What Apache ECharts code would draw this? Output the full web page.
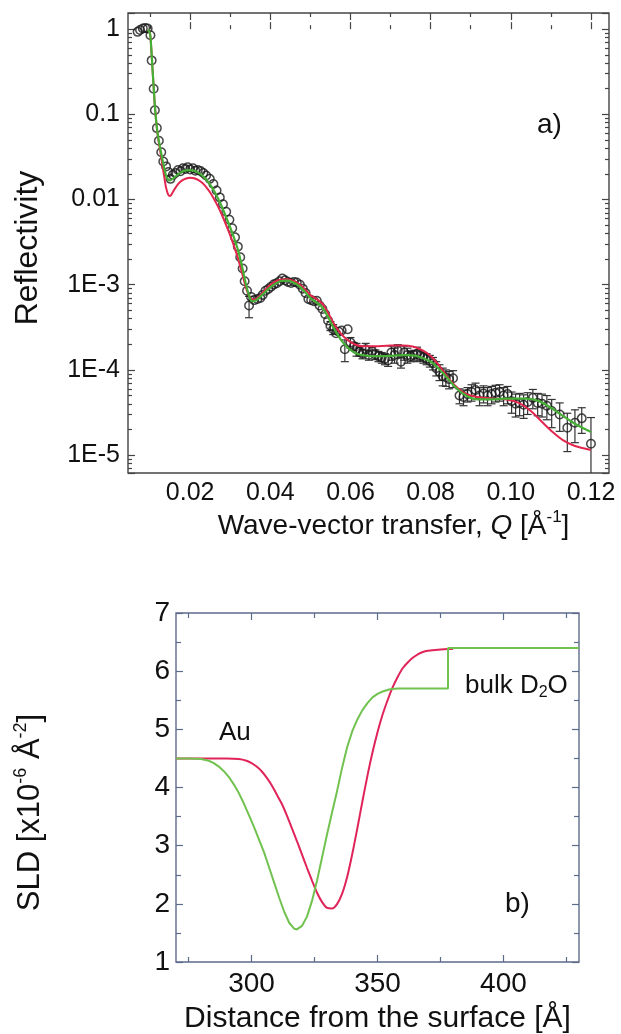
<!DOCTYPE html>
<html><head><meta charset="utf-8">
<script src="https://cdn.jsdelivr.net/npm/echarts@6/dist/echarts.min.js"></script>
<style>html,body{margin:0;padding:0;background:#fff}#c{width:621px;height:1034px}</style>
</head><body><div id="c"></div>
<script>
// ---------- panel a) reflectivity data ----------
const refQ = [
0.0069,0.0075,0.0082,0.0088,0.0094,0.0101,0.0104,0.0109,0.0112,0.0117,
0.0122,0.0128,0.0133,0.0140,0.0146,0.0151,0.0157,0.0163,0.0170,0.0176,
0.0182,0.0188,0.0194,0.0200,0.0207,0.0213,0.0219,0.0226,0.0233,0.0240,
0.0249,0.0258,0.0266,0.0274,0.0282,0.0290,0.0298,0.0305,0.0312,0.0319,
0.0325,0.0331,0.0336,0.0342,0.0347,0.0352,0.0360,0.0368,0.0375,0.0381,
0.0388,0.0395,0.0402,0.0409,0.0416,0.0423,0.0430,0.0437,0.0444,0.0452,
0.0459,0.0466,0.0474,0.0481,0.0488,0.0495,0.0502,0.0509,0.0516,0.0523,
0.0530,0.0537,0.0544,0.0550,0.0557,0.0564,0.0571,0.0578,0.0586,0.0593,
0.0600,0.0608,0.0615,0.0622,0.0630,0.0638,0.0646,0.0654,0.0662,0.0670,
0.0678,0.0686,0.0694,0.0702,0.0710,0.0718,0.0726,0.0734,0.0742,0.0750,
0.0758,0.0766,0.0774,0.0782,0.0790,0.0798,0.0806,0.0814,0.0822,0.0830,
0.0838,0.0846,0.0856,0.0872,0.0882,0.0892,0.0902,0.0912,0.0922,0.0932,
0.0942,0.0952,0.0962,0.0972,0.0982,0.0992,0.1002,0.1012,0.1022,0.1032,
0.1042,0.1055,0.1067,0.1078,0.1090,0.1102,0.1122,0.1141,0.1160,0.1177,
0.1200];
const refR = [
0.93,0.98,1.02,1.03,1.02,0.85,0.43,0.20,0.112,0.069,
0.049,0.036,0.028,0.0245,0.021,0.0175,0.0195,0.0205,0.0222,0.0215,
0.0233,0.0228,0.0239,0.0225,0.0233,0.0218,0.0222,0.0216,0.0205,0.0192,
0.0175,0.0152,0.0128,0.0106,0.0088,0.0072,0.0058,0.0046,0.0036,0.0028,
0.0021,0.00155,0.00110,0.00085,0.00057,0.00072,0.00066,0.00068,0.00070,0.00076,
0.00085,0.00089,0.00095,0.00101,0.00104,0.00110,0.00118,0.00113,0.00108,0.00105,
0.00108,0.00106,0.00100,0.00090,0.00080,0.00068,0.00066,0.00064,0.00065,0.00057,
0.00052,0.00045,0.00038,0.00033,0.00030,0.00027,0.00028,0.00029,0.000175,0.00030,
0.00021,0.00019,0.000175,0.000165,0.000155,0.000175,0.000150,0.000165,0.000152,0.000145,
0.000140,0.000135,0.000130,0.000160,0.000150,0.000168,0.000125,0.000160,0.000150,0.000145,
0.000150,0.000155,0.000148,0.000140,0.000135,0.000128,0.000120,0.000105,0.000095,0.000085,
0.000082,0.000078,0.000080,0.000050,0.000048,0.000052,0.000055,0.000058,0.000050,0.000053,
0.000050,0.000052,0.000054,0.000055,0.000050,0.000052,0.000043,0.000040,0.000041,0.000039,
0.000042,0.000047,0.000041,0.000040,0.000038,0.000033,0.000030,0.000021,0.000024,0.000027,
0.0000136];
const refErr = [
0,0,0,0,0,0,0,0,0,0,
0,0,0,0,0,0,0,0,0,0,
0,0,0,0,0,0,0,0,0,0,
0,0,0,0,0,0,0,0,0,0,
0,0,0,0,0.00016,0,0,0,0,0,
0,0,0,0,0,0,0,0,0,0,
0,0,0,0,0,0,0,0,0,0,
0,0,0,0.00004,0.00004,0,0,0,0.00005,0,
0.00003,0.00002,0.00003,0.00002,0.00002,0.00003,0.00002,0.00002,0.00002,0.00002,
0.00002,0.00002,0.00002,0.00003,0.00003,0.00003,0.00002,0.00003,0.00003,0.00002,
0.00002,0.00003,0.00002,0.00002,0.00002,0.00002,0.00002,0.00002,0.00002,0.00002,
0.000018,0.000018,0.000018,0.00001,0.00001,0.00001,0.000012,0.000012,0.000012,0.000012,
0.000012,0.000012,0.000012,0.000012,0.000012,0.000012,0.000012,0.000012,0.000012,0.000012,
0.000012,0.000012,0.000012,0.000012,0.000012,0.000012,0.000011,0.000010,0.000010,0.000009,
0.000014];
const fitGreenQ = [0.0095,0.0100,0.0103,0.0106,0.0109,0.0112,0.0116,0.0120,0.0125,0.0130,0.0135,0.0140,0.0145,0.0150,0.0160,0.0170,0.0180,0.0190,0.0200,0.0210,0.0220,0.0230,0.0240,0.0250,0.0260,0.0270,0.0280,0.0290,0.0300,0.0310,0.0320,0.0330,0.0340,0.0350,0.0355,0.0365,0.0380,0.0395,0.0410,0.0425,0.0440,0.0455,0.0470,0.0485,0.0500,0.0515,0.0530,0.0545,0.0560,0.0575,0.0590,0.0605,0.0620,0.0640,0.0660,0.0680,0.0700,0.0720,0.0740,0.0760,0.0780,0.0800,0.0820,0.0840,0.0860,0.0880,0.0900,0.0920,0.0950,0.0980,0.1010,0.1040,0.1070,0.1100,0.1120,0.1150,0.1170,0.1200];
const fitGreenR = [1.0,0.88,0.6,0.35,0.21,0.125,0.078,0.055,0.041,0.031,0.024,0.019,0.0172,0.0168,0.0180,0.0198,0.0212,0.0220,0.0222,0.0218,0.0207,0.0192,0.0172,0.0150,0.0126,0.0102,0.0081,0.0062,0.0047,0.0035,0.0025,0.0016,0.00098,0.00068,0.00064,0.00066,0.00076,0.00089,0.00101,0.00110,0.00112,0.00108,0.00098,0.00084,0.00070,0.00062,0.00054,0.00041,0.00030,0.00023,0.00019,0.000165,0.000153,0.000147,0.000145,0.000145,0.000146,0.000148,0.000149,0.000147,0.000138,0.000125,0.000104,0.000082,0.000064,0.000053,0.000047,0.000045,0.000045,0.000046,0.000046,0.000046,0.000043,0.000036,0.000031,0.000025,0.000022,0.0000187];
const fitRedQ = [0.0095,0.0100,0.0103,0.0106,0.0109,0.0112,0.0116,0.0120,0.0125,0.0130,0.0135,0.0140,0.0145,0.0150,0.0155,0.0160,0.0170,0.0180,0.0190,0.0200,0.0210,0.0220,0.0230,0.0240,0.0250,0.0260,0.0270,0.0280,0.0290,0.0300,0.0310,0.0320,0.0330,0.0340,0.0350,0.0360,0.0375,0.0390,0.0405,0.0420,0.0440,0.0460,0.0480,0.0500,0.0515,0.0530,0.0545,0.0560,0.0575,0.0590,0.0610,0.0630,0.0660,0.0700,0.0730,0.0755,0.0780,0.0800,0.0820,0.0840,0.0860,0.0880,0.0900,0.0930,0.0960,0.0990,0.1020,0.1050,0.1080,0.1100,0.1130,0.1160,0.1200];
const fitRedR = [1.0,0.88,0.6,0.35,0.21,0.125,0.077,0.053,0.038,0.027,0.019,0.0138,0.0115,0.0110,0.0118,0.0130,0.0152,0.0168,0.0177,0.0180,0.0178,0.0170,0.0157,0.0140,0.0121,0.0101,0.0082,0.0065,0.0050,0.0038,0.0028,0.0020,0.00135,0.00090,0.00070,0.00067,0.00075,0.00090,0.00104,0.00113,0.00116,0.00110,0.00095,0.00076,0.00068,0.00060,0.00046,0.00034,0.00027,0.00023,0.00020,0.000190,0.000190,0.000193,0.000193,0.000188,0.000170,0.000146,0.000115,0.000085,0.000066,0.000055,0.000050,0.000047,0.000046,0.000045,0.000041,0.000033,0.000024,0.0000195,0.0000150,0.0000128,0.0000115];
const qTicksMajor = [0.02,0.04,0.06,0.08,0.10,0.12];
const qTicksMinor = [0.01,0.03,0.05,0.07,0.09,0.11];
const rTickValues = [1e-5,1e-4,1e-3,0.01,0.1,1];
const rTickLabels = ['1E-5','1E-4','1E-3','0.01','0.1','1'];

// ---------- panel b) SLD profiles ----------
const sldRedX = [270,280,290,295,298,300,302,304,306,308,310,312,314,316,318,320,322,324,326,328,330,332,334,336,338,340,342,344,346,348,350,352,354,356,358,360,362,364,366,368,370,374,378,380];
const sldRedY = [4.50,4.50,4.50,4.49,4.46,4.42,4.36,4.28,4.17,4.04,3.88,3.72,3.52,3.30,3.08,2.85,2.62,2.40,2.19,2.03,1.93,1.92,2.00,2.18,2.47,2.86,3.30,3.76,4.20,4.60,4.95,5.25,5.50,5.72,5.90,6.05,6.15,6.23,6.29,6.33,6.35,6.37,6.38,6.38];
const sldGreenX = [270,275,280,283,285,287,289,291,293,295,297,299,301,303,305,307,309,311,313,315,317,318,320,322,324,326,328,330,332,334,336,338,340,342,344,346,348,350,352,355,358,378,378,430];
const sldGreenY = [4.50,4.50,4.49,4.46,4.42,4.36,4.28,4.18,4.05,3.90,3.72,3.52,3.32,3.10,2.88,2.62,2.36,2.10,1.86,1.67,1.57,1.56,1.62,1.78,2.05,2.40,2.80,3.20,3.58,3.95,4.35,4.70,4.97,5.17,5.33,5.45,5.55,5.61,5.65,5.69,5.70,5.70,6.40,6.40];
const dTicksMajor = [300,350,400];
const dTicksMinor = [275,325,375,425];
const sTicksMajor = [1,2,3,4,5,6,7];
const sTicksMinor = [1.5,2.5,3.5,4.5,5.5,6.5];

// ---------- axis ranges ----------
const Q_MIN = 0.0045, Q_MAX = 0.1245;
const R_MIN_LOG = -5.21, R_MAX_LOG = 0.19;
const R_MIN = Math.pow(10, R_MIN_LOG), R_MAX = Math.pow(10, R_MAX_LOG);
const D_MIN = 270, D_MAX = 430, S_MIN = 1, S_MAX = 7;

const FONT = '"Liberation Sans", Arial, Helvetica, sans-serif';
const TXT = '#111';
const FRAME_A = '#444', FRAME_B = '#5d6b8a';
const RED_A = '#e3264d', GREEN_A = '#45b035';
const RED_B = '#e0245a', GREEN_B = '#72c24f';

// log-space minor ticks (2..9 per decade)
const rMinorLog = [];
for (let e = -6; e <= 0; e++) for (let k = 2; k <= 9; k++) {
  const v = Math.log10(k) + e;
  if (v > R_MIN_LOG && v < R_MAX_LOG) rMinorLog.push(v);
}

function deco(grid, pos, min, max, values, len, color) {
  return {
    type: 'value', gridIndex: grid, position: pos, min: min, max: max,
    axisLine: {show: false}, splitLine: {show: false},
    axisTick: {show: true, inside: true, length: len, customValues: values, lineStyle: {color: color, width: 1.2}},
    axisLabel: {show: false}
  };
}

const xAxes = [
  {
    type: 'value', gridIndex: 0, position: 'bottom', min: Q_MIN, max: Q_MAX,
    axisLine: {show: false}, splitLine: {show: false},
    axisTick: {inside: true, length: 7, customValues: qTicksMajor, lineStyle: {color: FRAME_A, width: 1.2}},
    axisLabel: {customValues: qTicksMajor, formatter: v => v.toFixed(2), fontSize: 25, fontFamily: FONT, color: TXT, margin: 8},
    name: 'Wave-vector transfer, {i|Q} [Å{s|-1}]', nameLocation: 'middle', nameGap: 36,
    nameTextStyle: {fontSize: 28, fontFamily: FONT, color: TXT, lineHeight: 34, padding: [0, 0, 0, 50],
      rich: {i: {fontStyle: 'italic', fontSize: 28, fontFamily: FONT, color: TXT, lineHeight: 34},
             s: {fontSize: 17, fontFamily: FONT, color: TXT, verticalAlign: 'top', lineHeight: 22}}}
  },
  deco(0, 'bottom', Q_MIN, Q_MAX, qTicksMinor, 4, FRAME_A),
  deco(0, 'top', Q_MIN, Q_MAX, qTicksMajor, 7, FRAME_A),
  deco(0, 'top', Q_MIN, Q_MAX, qTicksMinor, 4, FRAME_A),
  {
    type: 'value', gridIndex: 1, position: 'bottom', min: D_MIN, max: D_MAX,
    axisLine: {show: false}, splitLine: {show: false},
    axisTick: {inside: true, length: 7, customValues: dTicksMajor, lineStyle: {color: FRAME_B, width: 1.2}},
    axisLabel: {customValues: dTicksMajor, fontSize: 28, fontFamily: FONT, color: TXT, margin: 8},
    name: 'Distance from the surface [Å]', nameLocation: 'middle', nameGap: 40,
    nameTextStyle: {fontSize: 30, fontFamily: FONT, color: TXT, lineHeight: 34}
  },
  deco(1, 'bottom', D_MIN, D_MAX, dTicksMinor, 5, FRAME_B),
  deco(1, 'top', D_MIN, D_MAX, dTicksMajor, 7, FRAME_B),
  deco(1, 'top', D_MIN, D_MAX, dTicksMinor, 5, FRAME_B)
];

function rLabel(v) {
  const lv = Math.log10(v);
  for (let i = 0; i < rTickValues.length; i++) {
    if (Math.abs(Math.log10(rTickValues[i]) - lv) < 1e-6) return rTickLabels[i];
  }
  return '';
}

const yAxes = [
  {
    type: 'log', logBase: 10, gridIndex: 0, position: 'left', min: R_MIN, max: R_MAX,
    axisLine: {show: false}, splitLine: {show: false}, minorTick: {show: false},
    axisTick: {inside: true, length: 7, lineStyle: {color: FRAME_A, width: 1.2}},
    axisLabel: {formatter: rLabel, fontSize: 25, fontFamily: FONT, color: TXT, margin: 8},
    name: 'Reflectivity', nameLocation: 'middle', nameGap: 82, nameRotate: 90,
    nameTextStyle: {fontSize: 32, fontFamily: FONT, color: TXT, lineHeight: 36, padding: [0, 10, 0, 0]}
  },
  {
    type: 'log', logBase: 10, gridIndex: 0, position: 'right', min: R_MIN, max: R_MAX,
    axisLine: {show: false}, splitLine: {show: false},
    axisTick: {inside: true, length: 7, lineStyle: {color: FRAME_A, width: 1.2}},
    axisLabel: {show: false}
  },
  deco(0, 'left', R_MIN_LOG, R_MAX_LOG, rMinorLog, 4, FRAME_A),
  deco(0, 'right', R_MIN_LOG, R_MAX_LOG, rMinorLog, 4, FRAME_A),
  {
    type: 'value', gridIndex: 1, position: 'left', min: S_MIN, max: S_MAX,
    axisLine: {show: false}, splitLine: {show: false},
    axisTick: {inside: true, length: 7, customValues: sTicksMajor, lineStyle: {color: FRAME_B, width: 1.2}},
    axisLabel: {customValues: sTicksMajor, fontSize: 28, fontFamily: FONT, color: TXT, margin: 6},
    name: 'SLD [x10{s|-6} Å{s|-2}]', nameLocation: 'middle', nameGap: 128, nameRotate: 90,
    nameTextStyle: {fontSize: 31, fontFamily: FONT, color: TXT, lineHeight: 36, padding: [0, 50, 0, 0],
      rich: {s: {fontSize: 18, fontFamily: FONT, color: TXT, verticalAlign: 'top', lineHeight: 22}}}
  },
  deco(1, 'left', S_MIN, S_MAX, sTicksMinor, 5, FRAME_B),
  deco(1, 'right', S_MIN, S_MAX, sTicksMajor, 7, FRAME_B),
  deco(1, 'right', S_MIN, S_MAX, sTicksMinor, 5, FRAME_B)
];

const zip = (a, b) => a.map((v, i) => [v, b[i]]);

const chart = echarts.init(document.getElementById('c'), null, {renderer: 'canvas'});
chart.setOption({
  backgroundColor: '#fff',
  animation: false,
  grid: [
    {left: 128, top: 13, width: 481, height: 460, show: true, borderColor: FRAME_A, borderWidth: 1.4, backgroundColor: 'transparent', outerBoundsMode: 'none', containLabel: false},
    {left: 176, top: 613, width: 403, height: 349, show: true, borderColor: FRAME_B, borderWidth: 1.4, backgroundColor: 'transparent', outerBoundsMode: 'none', containLabel: false}
  ],
  xAxis: xAxes,
  yAxis: yAxes,
  series: [
    {
      type: 'custom', xAxisIndex: 0, yAxisIndex: 0, z: 1, clip: true,
      data: refQ.map((q, i) => [q, refR[i], refErr[i]]),
      encode: {x: 0, y: 1},
      renderItem: function (params, api) {
        const x = api.value(0), y = api.value(1), e = api.value(2);
        if (!e) return null;
        const lo = Math.max(y - e, R_MIN), hi = y + e;
        const p1 = api.coord([x, hi]), p2 = api.coord([x, lo]);
        const w = 4;
        const st = {stroke: '#333', lineWidth: 1.2};
        const kids = [
          {type: 'line', shape: {x1: p1[0], y1: p1[1], x2: p2[0], y2: p2[1]}, style: st},
          {type: 'line', shape: {x1: p1[0] - w, y1: p1[1], x2: p1[0] + w, y2: p1[1]}, style: st}
        ];
        if (lo > R_MIN) kids.push({type: 'line', shape: {x1: p2[0] - w, y1: p2[1], x2: p2[0] + w, y2: p2[1]}, style: st});
        return {type: 'group', children: kids};
      }
    },
    {
      type: 'scatter', xAxisIndex: 0, yAxisIndex: 0, z: 2,
      data: zip(refQ, refR), symbol: 'circle', symbolSize: 8.5,
      itemStyle: {color: 'rgba(255,255,255,0)', borderColor: '#1a1a1a', borderWidth: 1.5}
    },
    {
      type: 'line', xAxisIndex: 0, yAxisIndex: 0, z: 3, data: zip(fitRedQ, fitRedR),
      showSymbol: false, smooth: 0.3, lineStyle: {color: RED_A, width: 2}
    },
    {
      type: 'line', xAxisIndex: 0, yAxisIndex: 0, z: 4, data: zip(fitGreenQ, fitGreenR),
      showSymbol: false, smooth: 0.3, lineStyle: {color: GREEN_A, width: 2.2}
    },
    {
      type: 'line', xAxisIndex: 4, yAxisIndex: 4, z: 3, data: zip(sldRedX, sldRedY),
      showSymbol: false, smooth: 0.3, lineStyle: {color: RED_B, width: 2}
    },
    {
      type: 'line', xAxisIndex: 4, yAxisIndex: 4, z: 4, data: zip(sldGreenX, sldGreenY),
      showSymbol: false, smooth: false, lineStyle: {color: GREEN_B, width: 2}
    }
  ],
  graphic: [
    {type: 'text', x: 537, y: 125, style: {text: 'a)', fontSize: 28, fontFamily: FONT, fill: TXT, align: 'left', verticalAlign: 'middle'}},
    {type: 'text', x: 219, y: 733, style: {text: 'Au', fontSize: 26, fontFamily: FONT, fill: TXT, align: 'left', verticalAlign: 'middle'}},
    {type: 'text', x: 465, y: 686, style: {text: 'bulk D{b|2}O', fontSize: 26, fontFamily: FONT, fill: TXT, align: 'left', verticalAlign: 'middle', lineHeight: 30,
      rich: {b: {fontSize: 16, fontFamily: FONT, fill: TXT, verticalAlign: 'bottom', lineHeight: 16}}}},
    {type: 'text', x: 505, y: 904, style: {text: 'b)', fontSize: 28, fontFamily: FONT, fill: TXT, align: 'left', verticalAlign: 'middle'}}
  ]
});
</script>
</body></html>
